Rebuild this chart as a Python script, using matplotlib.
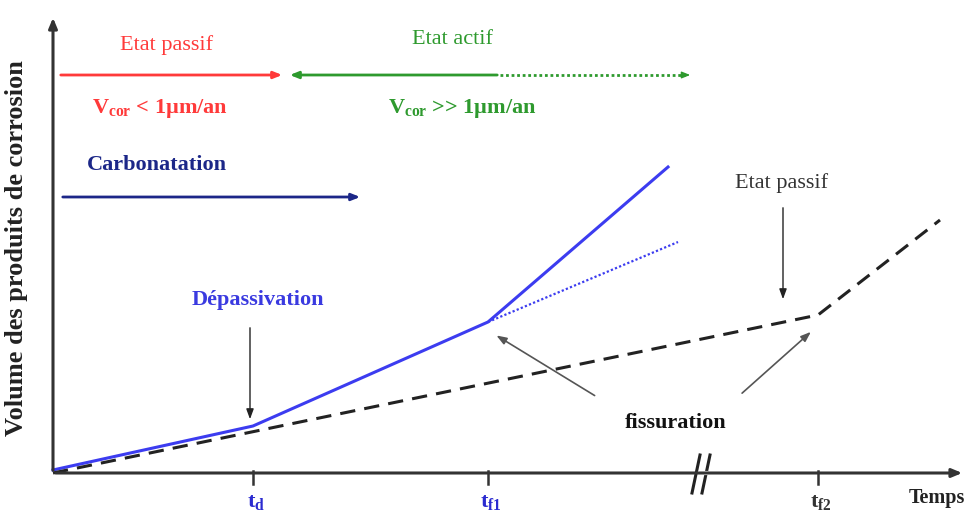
import matplotlib
matplotlib.use("Agg")
from matplotlib import pyplot as plt

plt.rcParams['font.family'] = ['Liberation Serif', 'DejaVu Serif']
plt.rcParams['mathtext.fontset'] = 'custom'
plt.rcParams['mathtext.rm'] = 'Liberation Serif'
plt.rcParams['mathtext.bf'] = 'Liberation Serif:bold'
plt.rcParams['mathtext.it'] = 'Liberation Serif:italic'

# Schematic data (time units / volume units, origin at the axes corner)
t_d, t_f1, t_f2 = 200, 435, 765
t_break = 650

blue_time = [0, t_d, t_f1, 615]
blue_volume = [3, 47, 151, 306]

blue_dotted_time = [t_f1, 625]
blue_dotted_volume = [151, 231]

dashed_time = [0, t_f2, 887]
dashed_volume = [0, 158, 253]

tick_times = [t_d, t_f1, t_f2]
tick_labels = [r"$\mathbf{t_d}$", r"$\mathbf{t_{f1}}$", r"$\mathbf{t_{f2}}$"]
tick_colors = ["#2b2bd0", "#2b2bd0", "#333333"]

RED = "#ff3a3a"
GREEN = "#2e9a2e"
NAVY = "#1c2788"
BLUE = "#3c3cf0"
GREY = "#555555"
AXIS = "#333333"

fig = plt.figure(figsize=(9.69, 5.19), dpi=100)
ax = fig.add_axes([0, 0, 1, 1])
ax.set_xlim(-53, 916)
ax.set_ylim(-46, 473)
ax.axis("off")

# Axes with arrows
ax.annotate("", xy=(0, 458), xytext=(0, 0),
            arrowprops=dict(arrowstyle="-|>,head_length=0.6,head_width=0.25", color=AXIS, lw=2.2))
ax.annotate("", xy=(912, 0), xytext=(0, 0),
            arrowprops=dict(arrowstyle="-|>,head_length=0.6,head_width=0.25", color=AXIS, lw=2.2))

# Ticks and labels
for t, lab, c in zip(tick_times, tick_labels, tick_colors):
    ax.plot([t, t], [2, -11], color=AXIS, lw=1.8)
    ax.text(t + 3, -30, lab, color=c, fontsize=16, ha="center", va="center")
ax.text(884, -25, "Temps", fontsize=14.5, fontweight="bold", color="#222222", ha="center", va="center")

# Axis break
for dx in (-7, 3):
    ax.plot([t_break + dx - 4, t_break + dx + 4], [-20, 18], color="#222222", lw=2.2)
ax.plot([t_break - 3, t_break + 3], [0, 0], color="white", lw=3)

# Curves
ax.plot(blue_time, blue_volume, color=BLUE, lw=2.2, solid_joinstyle="miter")
ax.plot(blue_dotted_time, blue_dotted_volume, color=BLUE, lw=1.6, ls=(0, (1, 1)))
ax.plot(dashed_time, dashed_volume, color="#222222", lw=2.2, ls=(0, (5, 3)))

# Y label
ax.text(-36, 225, "Volume des produits de corrosion", rotation=90, fontsize=19,
        fontweight="bold", color="#222222", ha="center", va="center")

# Top arrows: passive / active states
ax.annotate("", xy=(232, 398), xytext=(5, 398),
            arrowprops=dict(arrowstyle="-|>,head_length=0.5,head_width=0.2", color=RED, lw=2))
ax.annotate("", xy=(234, 398), xytext=(447, 398),
            arrowprops=dict(arrowstyle="-|>,head_length=0.5,head_width=0.2", color=GREEN, lw=2))
ax.plot([447, 632], [398, 398], color=GREEN, lw=2, ls=(0, (1, 1)))
ax.annotate("", xy=(640, 398), xytext=(630, 398),
            arrowprops=dict(arrowstyle="-|>,head_length=0.5,head_width=0.2", color=GREEN, lw=1))

ax.text(114, 428, "Etat passif", color=RED, fontsize=16, ha="center", va="center")
ax.text(107, 365, r"$\mathbf{V_{cor}}$" + " < 1µm/an", color=RED, fontsize=16,
        fontweight="bold", ha="center", va="center")
ax.text(400, 433, "Etat actif", color=GREEN, fontsize=16, ha="center", va="center")
ax.text(409, 365, r"$\mathbf{V_{cor}}$" + " >> 1µm/an", color=GREEN, fontsize=16,
        fontweight="bold", ha="center", va="center")

# Carbonation
ax.text(104, 308, "Carbonatation", color=NAVY, fontsize=16, fontweight="bold", ha="center", va="center")
ax.annotate("", xy=(310, 276), xytext=(7, 276),
            arrowprops=dict(arrowstyle="-|>,head_length=0.5,head_width=0.2", color=NAVY, lw=2))

# Depassivation
ax.text(205, 173, "Dépassivation", color="#3a3ae0", fontsize=16, fontweight="bold", ha="center", va="center")
ax.annotate("", xy=(197, 51), xytext=(197, 148),
            arrowprops=dict(arrowstyle="-|>,head_length=0.6,head_width=0.22", color="#222222", lw=1))

# Passive state on dashed curve
ax.text(729, 290, "Etat passif", color="#333333", fontsize=16, ha="center", va="center")
ax.annotate("", xy=(730, 171), xytext=(730, 268),
            arrowprops=dict(arrowstyle="-|>,head_length=0.6,head_width=0.22", color="#222222", lw=1))

# Cracking
ax.text(623, 50, "fissuration", color="#111111", fontsize=16, fontweight="bold", ha="center", va="center")
ax.annotate("", xy=(441, 139), xytext=(544, 76),
            arrowprops=dict(arrowstyle="-|>,head_length=0.6,head_width=0.22", color=GREY, lw=1.2))
ax.annotate("", xy=(760, 143), xytext=(687, 78),
            arrowprops=dict(arrowstyle="-|>,head_length=0.6,head_width=0.22", color=GREY, lw=1.2))

fig.savefig("out.png", dpi=100)
